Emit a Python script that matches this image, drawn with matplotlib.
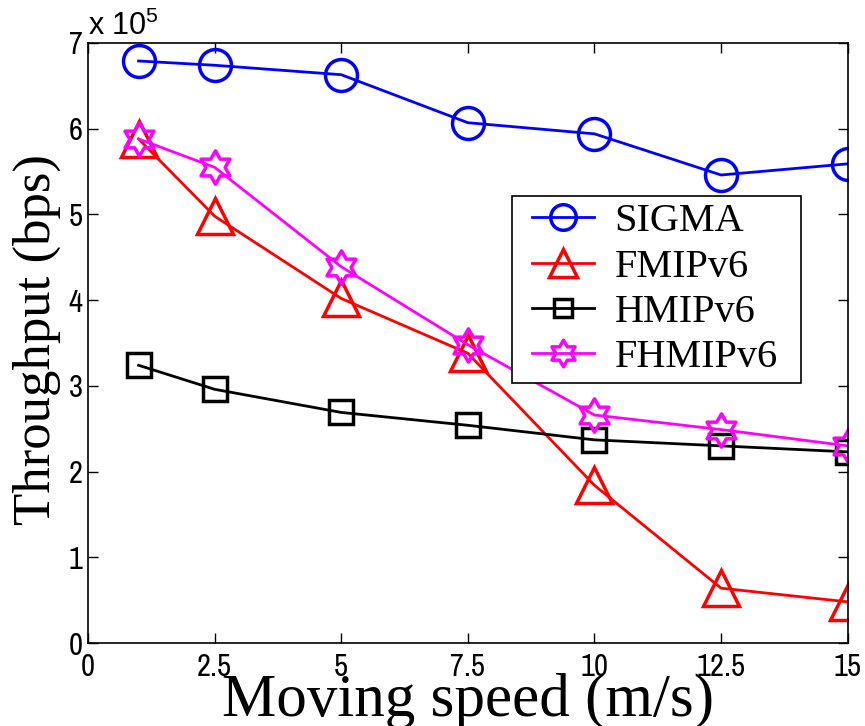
import numpy as np
import matplotlib
matplotlib.use('Agg')
import matplotlib.pyplot as plt
from matplotlib.path import Path
from matplotlib.patches import Rectangle
from matplotlib import font_manager

# data (throughput in bps)
speed = [1, 2.5, 5, 7.5, 10, 12.5, 15]
sigma = [6.79e5, 6.74e5, 6.63e5, 6.07e5, 5.94e5, 5.46e5, 5.59e5]
fmipv6 = [5.88e5, 4.98e5, 4.02e5, 3.38e5, 1.84e5, 0.64e5, 0.48e5]
hmipv6 = [3.24e5, 2.96e5, 2.69e5, 2.54e5, 2.37e5, 2.30e5, 2.23e5]
fhmipv6 = [5.88e5, 5.55e5, 4.39e5, 3.48e5, 2.66e5, 2.49e5, 2.30e5]

xticks = [0, 2.5, 5, 7.5, 10, 12.5, 15]
xticklabels = ['0', '2.5', '5', '7.5', '10', '12.5', '15']
yticks = [0, 1e5, 2e5, 3e5, 4e5, 5e5, 6e5, 7e5]
yticklabels = ['0', '1', '2', '3', '4', '5', '6', '7']


def hexagram():
	''' six pointed star marker like the matlab one'''
	verts = []
	for k in range(6):
		a = np.pi / 2 + k * np.pi / 3
		verts.append((np.cos(a), np.sin(a)))
		b = a + np.pi / 6
		verts.append((np.cos(b) / np.sqrt(3), np.sin(b) / np.sqrt(3)))
	verts.append(verts[0])
	codes = [Path.MOVETO] + [Path.LINETO] * 11 + [Path.CLOSEPOLY]
	return Path(verts, codes)


names = set(f.name for f in font_manager.fontManager.ttflist)
tick_font = 'Liberation Sans'
for cand in ['Liberation Sans Narrow', 'Archivo Narrow', 'Roboto Condensed', 'Arimo']:
	if cand in names:
		tick_font = cand
		break
serif = 'Liberation Serif'

plt.rcParams['mathtext.fontset'] = 'custom'
plt.rcParams['mathtext.rm'] = 'Liberation Sans'
plt.rcParams['mathtext.it'] = 'Liberation Sans'

fig = plt.figure(figsize=(8.65, 7.26), dpi=100)
ax = fig.add_axes([0.1017, 0.1143, 0.8783, 0.8265])

lw = 2
ax.plot(speed, sigma, color='b', lw=lw, marker='o', ms=23, mfc='none', mew=2.5, label='SIGMA')
ax.plot(speed, fmipv6, color='r', lw=lw, marker='^', ms=26, mfc='none', mew=2.5, label='FMIPv6')
ax.plot(speed, hmipv6, color='k', lw=lw, marker='s', ms=17, mfc='none', mew=2.5, label='HMIPv6')
ax.plot(speed, fhmipv6, color='magenta', lw=lw, marker=hexagram(), ms=24, mfc='none', mew=2.5, label='FHMIPv6')

ax.set_xlim(0, 15)
ax.set_ylim(0, 7e5)
ax.set_xticks(xticks)
ax.set_xticklabels(xticklabels, fontname=tick_font, fontsize=22)
ax.set_yticks(yticks)
ax.set_yticklabels(yticklabels, fontname=tick_font, fontsize=22)
ax.tick_params(direction='in', length=7, width=1, top=True, right=True)
ax.tick_params(axis='x', pad=7)
ax.tick_params(axis='y', pad=4)
for s in ax.spines.values():
	s.set_linewidth(1.2)

ax.text(0, 1.013, r'x 10$^\mathrm{5}$', transform=ax.transAxes, fontname='Liberation Sans', fontsize=22,
	ha='left', va='baseline')

ax.set_xlabel('Moving speed (m/s)', fontname=serif, fontsize=44)
ax.xaxis.set_label_coords(0.5, -0.049, transform=ax.transAxes)
ax.xaxis.label.set_va('top')
ax.set_ylabel('Throughput (bps)', fontname=serif, fontsize=38)
ax.yaxis.set_label_coords(-0.035, 0.505)

leg = ax.legend(loc='upper left', bbox_to_anchor=(0.584, 0.733), prop={'family': serif, 'size': 29},
	handlelength=1.54, labelspacing=0.2, borderpad=0, handletextpad=0.52,
	frameon=False, borderaxespad=0)
for h in leg.legend_handles:
	h.set_markersize(h.get_markersize() * 0.8)

# legend frame: more padding left/right than top/bottom
fig.canvas.draw()
bb = leg.get_window_extent()
pad_l, pad_r, pad_v = 20, 23, 7
ax.add_patch(Rectangle((bb.x0 - pad_l, bb.y0 - pad_v), bb.width + pad_l + pad_r, bb.height + 2 * pad_v,
	transform=None, facecolor='white', edgecolor='k', lw=1.2, zorder=4.9))
leg.set_zorder(5)

plt.savefig('out.png', dpi=100)
